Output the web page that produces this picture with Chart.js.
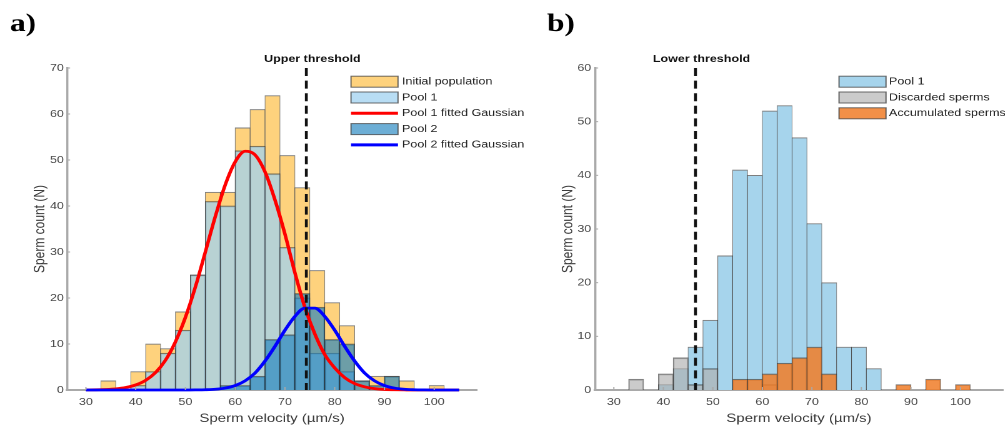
<!DOCTYPE html>
<html>
<head>
<meta charset="utf-8">
<script src="https://cdn.jsdelivr.net/npm/chart.js@4.4.0/dist/chart.umd.min.js"></script>
<style>
  html, body { margin: 0; background: #fff; }
  #fig { position: relative; width: 1006px; height: 427px; overflow: hidden; }
  canvas { position: absolute; top: 0; transform-origin: 0 0; transform: scaleX(1.25); }
</style>
</head>
<body>
<div id="fig">
  <canvas id="left" width="440" height="427" style="left:0"></canvas>
  <canvas id="right" width="402" height="427" style="left:503px"></canvas>
</div>
<script>
// --- data ---------------------------------------------------------------
// histogram bins are 3 µm/s wide, from 33 to 102
const binCenters = [34.5, 37.5, 40.5, 43.5, 46.5, 49.5, 52.5, 55.5, 58.5, 61.5, 64.5, 67.5,
                    70.5, 73.5, 76.5, 79.5, 82.5, 85.5, 88.5, 91.5, 94.5, 97.5, 100.5];
const initialPopulation = [2, 0, 4, 10, 9, 17, 25, 43, 43, 57, 61, 64, 51, 44, 26, 19, 14, 2, 3, 3, 2, 0, 1];
const pool1 =             [0, 0, 1, 4, 8, 13, 25, 41, 40, 52, 53, 47, 31, 20, 8, 8, 4, 0, 0, 0, 0, 0, 0];
const pool2 =             [0, 0, 0, 0, 0, 0, 0, 0, 1, 1, 3, 11, 12, 21, 18, 11, 10, 2, 1, 3, 0, 0, 0];
const discarded =         [2, 0, 3, 6, 1, 4, 0, 0, 0, 1, 0, 0, 0, 0, 0, 0, 0, 0, 0, 0, 0, 0, 0];
const accumulated =       [0, 0, 0, 0, 0, 0, 0, 2, 2, 3, 5, 6, 8, 3, 0, 0, 0, 0, 1, 0, 2, 0, 1];

// fitted curves
const curveX = [30, 32, 34, 36, 38, 40, 42, 44, 46, 48, 50, 52, 54, 56, 58, 60, 62, 64, 66, 68,
                70, 72, 74, 76, 78, 80, 82, 84, 86, 88, 90, 92, 94, 96, 98, 100, 102, 104, 105];
const pool1Fit = [0.02, 0.04, 0.11, 0.25, 0.54, 1.1, 2.1, 3.8, 6.5, 10.5, 15.8, 22.4, 30.0, 37.7, 44.6,
                  49.6, 51.9, 51.1, 47.4, 41.3, 33.9, 25.5, 18.0, 12.2, 7.7, 4.8, 2.7, 1.4, 0.7, 0.3,
                  0.1, 0.05, 0.02, 0, 0, 0, 0, 0, 0];
const pool2Fit = [0, 0, 0, 0, 0, 0, 0, 0, 0, 0, 0, 0.02, 0.06, 0.16, 0.42, 0.96, 2.0, 3.7, 6.3, 9.5,
                  13.0, 16.0, 17.8, 17.8, 16.0, 13.0, 9.5, 6.3, 3.7, 2.0, 0.96, 0.42, 0.16, 0.06, 0.02,
                  0, 0, 0, 0];

const xTicks = [30, 40, 50, 60, 70, 80, 90, 100];
const yTicksA = [0, 10, 20, 30, 40, 50, 60, 70];
const yTicksB = [0, 10, 20, 30, 40, 50, 60];
const upperThreshold = 74.3;
const lowerThreshold = 46.5;

// --- look -------------------------------------------------------------------
const SX = 1.25;          // the original figure is stretched sideways
const AREA_TOP = 68, AREA_BOTTOM = 390;
const X_MIN = 26.2, X_MAX = 108.6;
const AXIS = '#a9a9a9', TICK = '#4a4a4a', TITLE = '#3a3a3a';
const EDGE = 'rgba(40,40,40,0.6)';
const TITLE_SIZE = 12;

Chart.defaults.font.family = '"Liberation Sans", Arial, Helvetica, sans-serif';

function bars(label, values, color, order) {
  return {
    type: 'bar', label, order,
    data: binCenters.map((x, i) => ({ x, y: values[i] || null })),
    backgroundColor: color,
    borderColor: EDGE,
    borderWidth: { top: 1, left: 0.6, right: 0.6, bottom: 0 },
    borderSkipped: false,
    grouped: false,
    barPercentage: 1,
    categoryPercentage: 1
  };
}

function curve(label, values, color, order) {
  return {
    type: 'line', label, order,
    data: curveX.map((x, i) => ({ x, y: values[i] })),
    borderColor: color,
    backgroundColor: color,
    borderWidth: 2.8,
    pointRadius: 0,
    fill: false,
    cubicInterpolationMode: 'monotone',
    clip: false
  };
}

// threshold line, legend inside the plot, inner tick marks and panel letter
const panelPlugin = {
  id: 'panel',
  afterDatasetsDraw(chart, args, o) {
    const ctx = chart.ctx, xs = chart.scales.x, ys = chart.scales.y, a = chart.chartArea;
    ctx.save();

    ctx.strokeStyle = AXIS;
    ctx.lineWidth = 1;
    xs.ticks.forEach(t => {
      const px = xs.getPixelForValue(t.value);
      ctx.beginPath(); ctx.moveTo(px, a.bottom); ctx.lineTo(px, a.bottom - 3); ctx.stroke();
    });
    ys.ticks.forEach(t => {
      const py = ys.getPixelForValue(t.value);
      ctx.beginPath(); ctx.moveTo(a.left, py); ctx.lineTo(a.left + 2.5, py); ctx.stroke();
    });

    const tx = xs.getPixelForValue(o.threshold);
    ctx.strokeStyle = '#111';
    ctx.lineWidth = 2.3;
    ctx.setLineDash([8, 4.6]);
    ctx.beginPath(); ctx.moveTo(tx, a.top); ctx.lineTo(tx, a.bottom); ctx.stroke();
    ctx.setLineDash([]);
    ctx.fillStyle = '#111';
    ctx.font = 'bold 10px "Liberation Sans"';
    ctx.textAlign = 'center';
    ctx.textBaseline = 'middle';
    ctx.fillText(o.thresholdLabel, tx + 6 / SX, 59);

    const bx = (o.legendBoxX - o.origin) / SX, bw = 47 / SX, txx = (o.legendTextX - o.origin) / SX;
    ctx.font = '10px "Liberation Sans"';
    ctx.textAlign = 'left';
    chart.data.datasets.forEach((ds, i) => {
      const cy = 81.7 + i * 15.8;
      if (ds.type === 'line') {
        ctx.strokeStyle = ds.borderColor;
        ctx.lineWidth = 3;
        ctx.beginPath(); ctx.moveTo(bx, cy); ctx.lineTo(bx + bw, cy); ctx.stroke();
      } else {
        ctx.fillStyle = ds.backgroundColor;
        ctx.fillRect(bx, cy - 5.5, bw, 11);
        ctx.strokeStyle = 'rgba(70,70,70,0.8)';
        ctx.lineWidth = 1;
        ctx.strokeRect(bx, cy - 5.5, bw, 11);
      }
      ctx.fillStyle = '#1e1e1e';
      ctx.fillText(ds.label, txx, cy);
    });

    ctx.fillStyle = '#000';
    ctx.font = 'bold 25px "Liberation Serif"';
    ctx.textBaseline = 'alphabetic';
    ctx.fillText(o.letter, (o.letterX - o.origin) / SX, 31);
    ctx.restore();
  }
};

function makePanel(id, p) {
  const canvas = document.getElementById(id);
  const areaLeft = (p.areaLeft - p.origin) / SX;
  const areaRight = (p.areaRight - p.origin) / SX;
  const titleHalf = TITLE_SIZE * 1.2 / 2;
  return new Chart(canvas, {
    type: 'bar',
    data: { datasets: p.datasets },
    options: {
      animation: false,
      responsive: false,
      devicePixelRatio: 2,
      events: [],
      layout: { padding: { left: 0, right: canvas.width - areaRight, top: AREA_TOP, bottom: 0 } },
      plugins: {
        legend: { display: false },
        tooltip: { enabled: false },
        panel: {
          origin: p.origin, threshold: p.threshold, thresholdLabel: p.thresholdLabel,
          legendBoxX: p.legendBoxX, legendTextX: p.legendTextX, letter: p.letter, letterX: p.letterX
        }
      },
      scales: {
        x: {
          type: 'linear', min: X_MIN, max: X_MAX, offset: false,
          afterBuildTicks: s => { s.ticks = xTicks.map(v => ({ value: v })); },
          afterFit: s => { s.height = 427 - AREA_BOTTOM; },
          grid: { display: false, drawTicks: false },
          border: { color: AXIS, width: 2 },
          ticks: { color: TICK, font: { size: 10 }, padding: 6 },
          title: { display: true, text: 'Sperm velocity (µm/s)', color: TITLE,
                   font: { size: TITLE_SIZE }, padding: { top: 0, bottom: 1 } }
        },
        y: {
          min: 0, max: p.yMax,
          afterBuildTicks: s => { s.ticks = p.yTicks.map(v => ({ value: v })); },
          afterFit: s => { s.width = areaLeft; },
          grid: { display: false, drawTicks: false },
          border: { color: AXIS, width: 1.7 },
          ticks: { color: TICK, font: { size: 10 }, padding: p.tickPad },
          title: { display: true, text: 'Sperm count (N)', color: TITLE, font: { size: TITLE_SIZE },
                   padding: { top: (p.yTitleX - p.origin) / SX - titleHalf, bottom: 0 } }
        }
      }
    },
    plugins: [panelPlugin]
  });
}

makePanel('left', {
  origin: 0, areaLeft: 67, areaRight: 477, yMax: 70, yTicks: yTicksA, tickPad: 2.5, yTitleX: 40,
  threshold: upperThreshold, thresholdLabel: 'Upper threshold',
  legendBoxX: 351, legendTextX: 402, letter: 'a)', letterX: 10,
  datasets: [
    bars('Initial population', initialPopulation, 'rgb(254,210,125)', 5),
    bars('Pool 1', pool1, 'rgba(160,210,240,0.75)', 4),
    curve('Pool 1 fitted Gaussian', pool1Fit, '#ff0000', 2),
    bars('Pool 2', pool2, 'rgba(30,130,190,0.65)', 3),
    curve('Pool 2 fitted Gaussian', pool2Fit, '#0000ff', 1)
  ]
});

makePanel('right', {
  origin: 503, areaLeft: 595, areaRight: 1003, yMax: 60, yTicks: yTicksB, tickPad: 3, yTitleX: 568,
  threshold: lowerThreshold, thresholdLabel: 'Lower threshold',
  legendBoxX: 839, legendTextX: 889, letter: 'b)', letterX: 547,
  datasets: [
    bars('Pool 1', pool1, 'rgb(166,212,236)', 3),
    bars('Discarded sperms', discarded, 'rgba(175,175,175,0.65)', 2),
    bars('Accumulated sperms', accumulated, 'rgba(240,125,40,0.85)', 1)
  ]
});
</script>
</body>
</html>
